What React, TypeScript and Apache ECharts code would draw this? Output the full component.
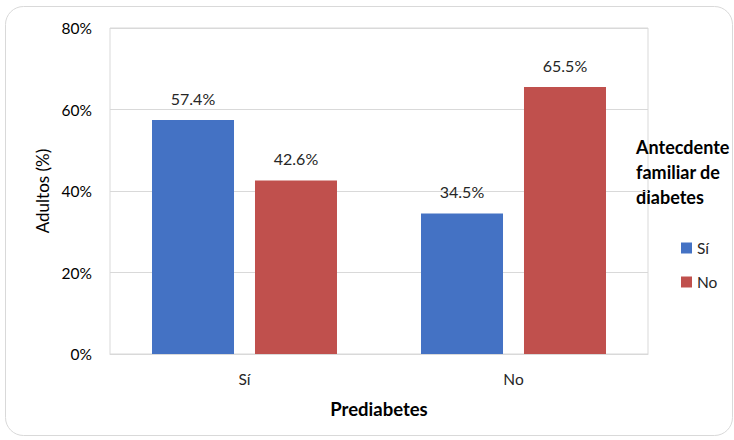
import React, { useEffect, useRef } from "react";
import * as echarts from "echarts";

const categories = ["Sí", "No"];
const seriesNames = ["Sí", "No"];
const siValues = [57.4, 34.5];
const noValues = [42.6, 65.5];
const yTicks = [0, 20, 40, 60, 80];

const FONT = "Lato, 'Open Sans', sans-serif";

export default function App() {
  const ref = useRef<HTMLDivElement>(null);

  useEffect(() => {
    document.body.style.margin = "0";
    const chart = echarts.init(ref.current!, null, { renderer: "svg" });
    const labelStyle = {
      show: true,
      position: "top" as const,
      distance: 14,
      fontSize: 16,
      color: "#262626",
      fontFamily: FONT,
      formatter: (p: any) => `${p.value.toFixed(1)}%`,
    };
    chart.setOption({
      animation: false,
      backgroundColor: "#ffffff",
      textStyle: { fontFamily: FONT },
      graphic: [
        {
          type: "rect",
          shape: { x: 5.5, y: 6.5, width: 727, height: 429, r: 18 },
          style: { fill: "none", stroke: "#d9d9d9", lineWidth: 1 },
          silent: true,
        },
        {
          type: "text",
          left: 636,
          top: 134,
          style: {
            text: "Antecdente\nfamiliar de\ndiabetes",
            font: `bold 18px ${FONT}`,
            lineHeight: 25,
            fill: "#000000",
          },
        },
      ],
      legend: {
        orient: "vertical",
        left: 676,
        top: 235,
        itemWidth: 11,
        itemHeight: 11,
        itemGap: 18,
        icon: "rect",
        data: seriesNames,
        textStyle: { fontSize: 15.5, color: "#262626", fontFamily: FONT },
      },
      grid: {
        left: 110,
        right: 86,
        top: 28,
        bottom: 86,
        show: true,
        borderColor: "#d9d9d9",
        borderWidth: 1,
      },
      xAxis: {
        type: "category",
        data: categories,
        name: "Prediabetes",
        nameLocation: "middle",
        nameGap: 45,
        nameTextStyle: { fontSize: 18.5, fontWeight: "bold", color: "#000", fontFamily: FONT },
        axisLine: { lineStyle: { color: "#d9d9d9" } },
        axisTick: { show: false },
        axisLabel: { fontSize: 15.5, color: "#262626", margin: 17, fontFamily: FONT },
      },
      yAxis: {
        type: "value",
        min: yTicks[0],
        max: yTicks[yTicks.length - 1],
        interval: 20,
        name: "Adultos (%)",
        nameLocation: "middle",
        nameGap: 57,
        nameTextStyle: { fontSize: 17, color: "#000", fontFamily: FONT },
        axisLine: { show: false },
        axisTick: { show: false },
        axisLabel: { fontSize: 15.5, color: "#000", margin: 18, formatter: "{value}%", fontFamily: FONT },
        splitLine: { lineStyle: { color: "#d9d9d9" } },
      },
      series: [
        {
          name: seriesNames[0],
          type: "bar",
          data: siValues,
          barWidth: 82,
          barGap: "25.6%",
          itemStyle: { color: "#4472C4" },
          label: labelStyle,
        },
        {
          name: seriesNames[1],
          type: "bar",
          data: noValues,
          barWidth: 82,
          barGap: "25.6%",
          itemStyle: { color: "#C0504D" },
          label: labelStyle,
        },
      ],
    });
    return () => chart.dispose();
  }, []);

  return (
    <div
      ref={ref}
      style={{ position: "absolute", left: 0, top: 0, width: 734, height: 440 }}
    />
  );
}
